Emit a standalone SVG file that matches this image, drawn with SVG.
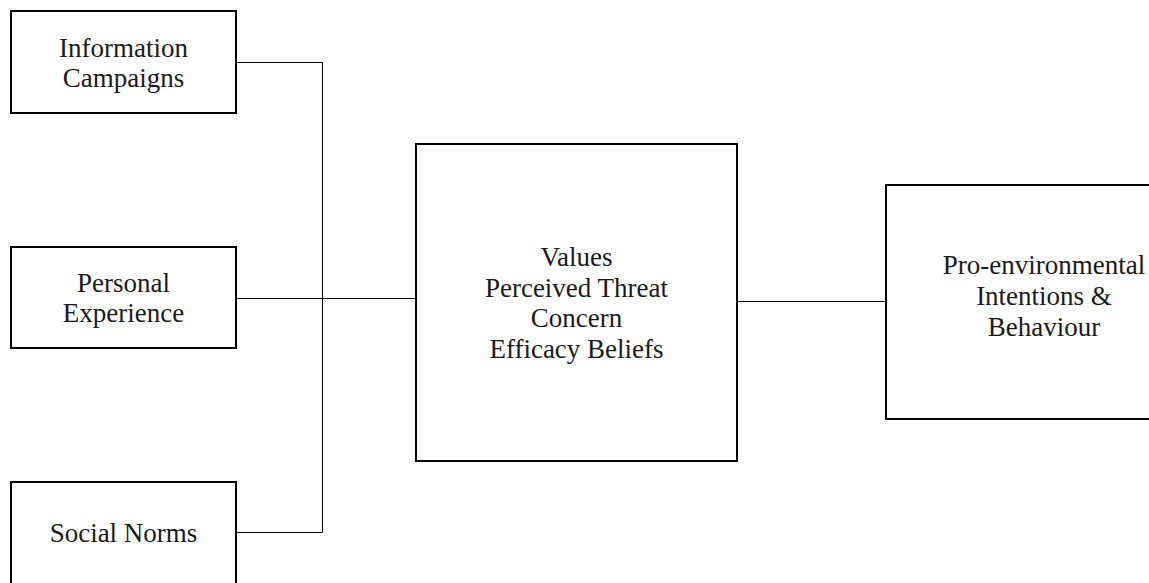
<svg xmlns="http://www.w3.org/2000/svg" width="1149" height="583" viewBox="0 0 1149 583">
  <defs>
    <style>
      .box { fill: #ffffff; stroke: #000000; stroke-width: 2; }
      .wire { fill: none; stroke: #000000; stroke-width: 1; }
    </style>
  </defs>
  <rect x="0" y="0" width="1149" height="583" fill="#ffffff"/>

  <!-- connectors -->
  <g id="connectors">
    <path class="wire" d="M236 62.5 H322.5 V532.5 H236"/>
    <path class="wire" d="M236 298.5 H416"/>
    <path class="wire" d="M737 301.5 H886"/>
  </g>

  <g font-family="'Liberation Serif', serif" font-size="27" fill="#1a1a1a" text-anchor="middle">
    <g id="info-campaigns">
      <rect class="box" x="11" y="11" width="225" height="102"/>
      <text x="123.5" y="56.5">Information</text>
      <text x="123.5" y="87">Campaigns</text>
    </g>

    <g id="personal-experience">
      <rect class="box" x="11" y="247" width="225" height="101"/>
      <text x="123.5" y="291.5">Personal</text>
      <text x="123.5" y="322">Experience</text>
    </g>

    <g id="social-norms">
      <rect class="box" x="11" y="482" width="225" height="120"/>
      <text x="123.5" y="542">Social Norms</text>
    </g>

    <g id="mediators">
      <rect class="box" x="416" y="144" width="321" height="317"/>
      <text x="576.5" y="266">Values</text>
      <text x="576.5" y="296.5">Perceived Threat</text>
      <text x="576.5" y="327">Concern</text>
      <text x="576.5" y="357.5">Efficacy Beliefs</text>
    </g>

    <g id="outcome">
      <rect class="box" x="886" y="185" width="320" height="234"/>
      <text x="1044" y="274">Pro-environmental</text>
      <text x="1044" y="305">Intentions &amp;</text>
      <text x="1044" y="336">Behaviour</text>
    </g>
  </g>
</svg>
